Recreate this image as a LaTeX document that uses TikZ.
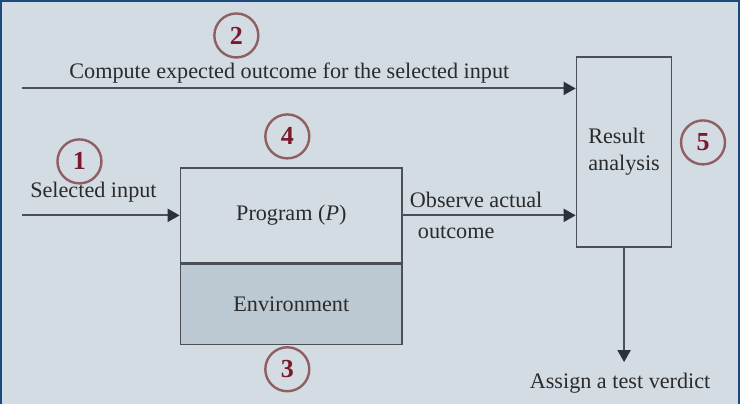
\documentclass[tikz,border=0pt]{standalone}
\usepackage{fontspec}
\setmainfont{Liberation Serif}
\usetikzlibrary{positioning,arrows.meta}

\definecolor{bgblue}{HTML}{D3DBE3}
\definecolor{envfill}{HTML}{BDC9D2}
\definecolor{framecol}{HTML}{1D4A7E}
\definecolor{linecol}{HTML}{4B5058}
\definecolor{tipcol}{HTML}{2C3038}
\definecolor{circcol}{HTML}{8E5F63}
\definecolor{numcol}{HTML}{7B1A2B}
\definecolor{txtcol}{HTML}{2B2B2B}

\begin{document}
\begin{tikzpicture}[x=0.5pt, y=-0.5pt,
  every node/.style={font=\fontsize{11.1}{13.5}\selectfont, text=txtcol},
  block/.style={draw=linecol, line width=0.75pt, rectangle, inner sep=0pt},
  flow/.style={-{Triangle[length=6pt,width=6.5pt,color=tipcol]}, draw=linecol, line width=1pt},
  numcirc/.style={circle, draw=circcol, line width=1.2pt, minimum size=22pt, inner sep=0pt,
    text=numcol, font=\fontsize{13}{14}\selectfont\bfseries}]
  % background and frame
  \fill[bgblue] (0,0) rectangle (740,404);
  \draw[framecol, line width=1pt] (0.5,404) -- (0.5,0.5) -- (738.5,0.5) -- (738.5,404);
  \useasboundingbox (0,0) rectangle (740,404);

  % blocks
  \node[block, minimum width=111pt, minimum height=47.5pt, fill=bgblue] (program) at (291,215) {Program (\textit{P})};
  \node[block, minimum width=111pt, minimum height=40pt, fill=envfill, below=0pt of program] (env) {Environment};
  \node[block, minimum width=47.7pt, minimum height=95pt, align=left] (result) at (624,151.7) {Result\\analysis};
  \node (verdict) at (620,383) {Assign a test verdict};

  % free ends
  \coordinate (inprog) at (22,215);
  \coordinate (inexp) at (22,88);

  % connectors
  \draw[flow] (inexp) -- (inexp -| result.west);
  \draw[flow] (inprog) -- (program.west);
  \draw[flow] (program.east) -- (program.east -| result.west);
  \draw[flow] (result.south) -- ([yshift=2pt]result.south |- verdict.north);

  % labels
  \node (lblexp) at (289,73) {Compute expected outcome for the selected input};
  \node (lblin) at (93,192) {Selected input};
  \node (lblobs) at (476,200) {Observe actual};
  \node (lblout) at (456,232) {outcome};

  % step numbers
  \node[numcirc] (n1) at (79,161) {1};
  \node[numcirc] (n2) at (236,35) {2};
  \node[numcirc] (n3) at (287,369) {3};
  \node[numcirc] (n4) at (287,136) {4};
  \node[numcirc] (n5) at (703,142) {5};
\end{tikzpicture}
\end{document}
